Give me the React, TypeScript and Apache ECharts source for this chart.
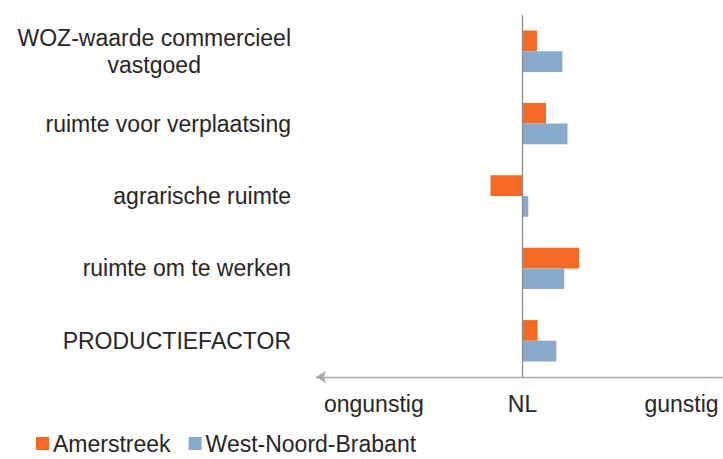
import React, { useEffect, useRef } from "react";
import * as echarts from "echarts";

const categories = [
  "WOZ-waarde commercieel vastgoed",
  "ruimte voor verplaatsing",
  "agrarische ruimte",
  "ruimte om te werken",
  "PRODUCTIEFACTOR",
];
const seriesNames = ["Amerstreek", "West-Noord-Brabant"];
const amerstreek = [7.0, 11.4, -15.5, 27.4, 7.3];
const westNoordBrabant = [19.3, 21.8, 2.8, 20.2, 16.4];
const tickValues = [-72, 0, 77];
const tickLabels = ["ongunstig", "NL", "gunstig"];

const FONT = "'Liberation Sans', Arial, sans-serif";
const TEXT = "#262626";
const FS = 23;

export default function App() {
  const ref = useRef<HTMLDivElement>(null);
  useEffect(() => {
    document.body.style.margin = "0";
    const chart = echarts.init(ref.current!, null, { renderer: "svg" });
    chart.setOption({
      animation: false,
      textStyle: { fontFamily: FONT, color: TEXT },
      grid: { left: 316, width: 413, top: 15, height: 362, outerBoundsMode: "none", containLabel: false },
      legend: {
        data: seriesNames,
        left: 36,
        top: 432,
        icon: "rect",
        itemWidth: 13,
        itemHeight: 13,
        itemGap: 18,
        padding: 0,
        textStyle: { fontSize: FS, color: TEXT, fontFamily: FONT, padding: [0, 0, 0, -1] },
      },
      xAxis: {
        type: "value",
        min: -100,
        max: 100,
        splitLine: { show: false },
        axisTick: { show: false },
        axisLine: {
          show: true,
          onZero: false,
          symbol: ["arrow", "none"],
          symbolSize: [9, 10],
          lineStyle: { color: "#a6a6a6", width: 1.3 },
        },
        axisLabel: {
          customValues: tickValues,
          margin: 15,
          fontSize: FS,
          color: TEXT,
          fontFamily: FONT,
          formatter: (v: number) => {
            const i = tickValues.indexOf(v);
            return i >= 0 ? tickLabels[i] : "";
          },
        },
      },
      yAxis: {
        type: "category",
        inverse: true,
        data: categories,
        axisLine: { show: false },
        axisTick: { show: false },
        axisLabel: {
          margin: 25,
          fontSize: FS,
          color: TEXT,
          fontFamily: FONT,
          formatter: (v: string) => {
            if (v === categories[0]) {
              return "{c|WOZ-waarde commercieel}\n{c|vastgoed}";
            }
            return v;
          },
          rich: {
            c: { align: "center", fontSize: FS, lineHeight: 27, color: TEXT, fontFamily: FONT },
          },
        },
      },
      series: [
        {
          name: seriesNames[0],
          type: "bar",
          data: amerstreek,
          barWidth: 20.7,
          barGap: "0%",
          itemStyle: { color: "#F26A24" },
          markLine: {
            silent: true,
            symbol: "none",
            label: { show: false },
            lineStyle: { color: "#8c8c8c", width: 1.3, type: "solid" },
            data: [{ xAxis: 0 }],
          },
        },
        {
          name: seriesNames[1],
          type: "bar",
          data: westNoordBrabant,
          barWidth: 20.7,
          barGap: "0%",
          itemStyle: { color: "#89A9CD" },
        },
      ],
    });
    return () => chart.dispose();
  }, []);
  return <div ref={ref} style={{ width: 723, height: 459 }} />;
}
